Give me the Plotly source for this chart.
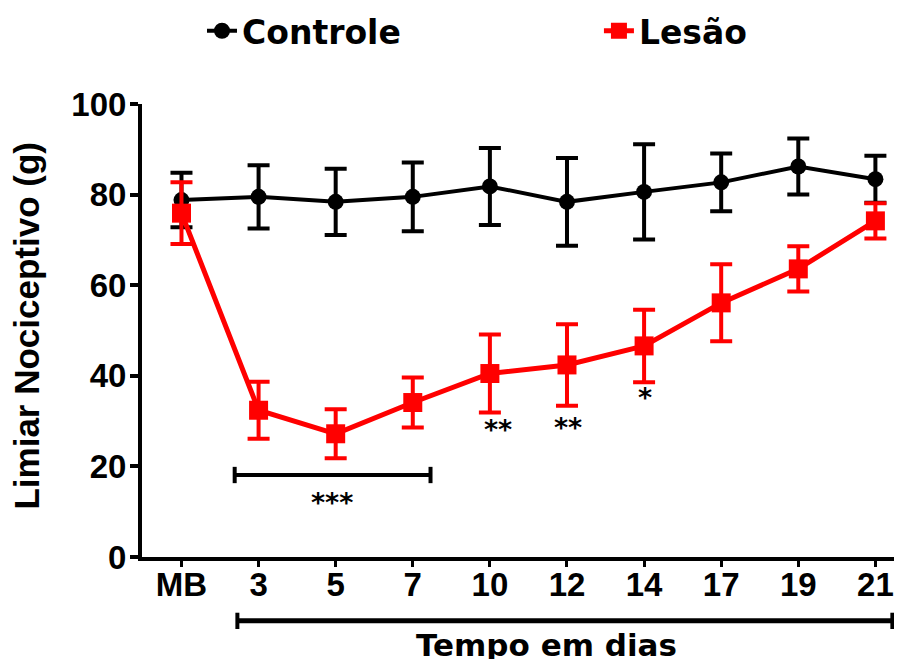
import plotly.graph_objects as go

# ---- data ----
time_labels = ["MB", "3", "5", "7", "10", "12", "14", "17", "19", "21"]
controle_mean = [78.8, 79.5, 78.4, 79.5, 81.8, 78.4, 80.6, 82.7, 86.2, 83.4]
controle_err = [6.0, 7.0, 7.3, 7.6, 8.5, 9.7, 10.5, 6.4, 6.2, 5.2]
lesao_mean = [75.9, 32.4, 27.2, 34.1, 40.5, 42.4, 46.6, 56.1, 63.6, 74.2]
lesao_err = [6.8, 6.3, 5.4, 5.5, 8.6, 9.0, 8.0, 8.5, 5.0, 3.9]

sig_labels = ["**", "**", "*", "***"]
sig_x = [4.10, 5.01, 6.01, 1.95]
sig_y = [28.9, 29.3, 35.8, 12.8]

y_ticks = [0, 20, 40, 60, 80, 100]

x_pos = list(range(len(time_labels)))

LEG_FONT = dict(family="DejaVu Sans", size=33, color="black", weight="bold")
TITLE_FONT = dict(family="DejaVu Sans", size=31, color="black", weight="bold")
TICK_FONT = dict(family="Liberation Sans", size=33, color="black", weight="bold")

fig = go.Figure()

fig.add_trace(go.Scatter(
    x=x_pos, y=controle_mean, name="Controle", mode="lines+markers",
    line=dict(color="black", width=4),
    marker=dict(symbol="circle", size=16, color="black"),
    error_y=dict(type="data", array=controle_err, visible=True,
                 color="black", thickness=4, width=11),
    legend="legend",
))
fig.add_trace(go.Scatter(
    x=x_pos, y=lesao_mean, name="Lesão", mode="lines+markers",
    line=dict(color="#ff0000", width=5),
    marker=dict(symbol="square", size=19, color="#ff0000"),
    error_y=dict(type="data", array=lesao_err, visible=True,
                 color="#ff0000", thickness=4, width=11),
    legend="legend2",
))

# significance asterisks
for lab, xi, yi in zip(sig_labels, sig_x, sig_y):
    fig.add_annotation(x=xi, y=yi, text=lab, showarrow=False,
                       xref="x", yref="y", xanchor="center", yanchor="middle",
                       yshift=-3,
                       font=dict(family="DejaVu Sans", size=27, color="black",
                                 weight="bold"))

# bracket for *** (days 3 to 7)
bx0, bx1, by = 0.69, 3.23, 18.1
fig.add_shape(type="line", xref="x", yref="y", x0=bx0, x1=bx1, y0=by, y1=by,
              line=dict(color="black", width=4))
for bx in (bx0, bx1):
    fig.add_shape(type="line", xref="x", yref="y", x0=bx, x1=bx,
                  y0=by - 1.8, y1=by + 1.8, line=dict(color="black", width=4))

# bottom bracket (time span)
tx0, tx1, ty = 0.725, 9.22, -0.141
fig.add_shape(type="line", xref="x", yref="paper", x0=tx0, x1=tx1, y0=ty, y1=ty,
              line=dict(color="black", width=5))
for tx in (tx0, tx1):
    fig.add_shape(type="line", xref="x", yref="paper", x0=tx, x1=tx,
                  y0=ty - 0.018, y1=ty + 0.018, line=dict(color="black", width=4))

fig.add_annotation(text="Tempo em dias", xref="paper", yref="paper",
                   x=0.532, y=-0.150, xanchor="center", yanchor="top",
                   showarrow=False, font=TITLE_FONT)
fig.add_annotation(text="Limiar Nociceptivo (g)", xref="paper", yref="paper",
                   x=-0.152, y=0.512, xanchor="center", yanchor="middle",
                   textangle=-90, showarrow=False,
                   font=dict(family="Liberation Sans", size=35, color="black",
                             weight="bold"))

fig.update_layout(
    width=894, height=651,
    margin=dict(l=134, r=0, t=96, b=102, autoexpand=False),
    paper_bgcolor="white", plot_bgcolor="white",
    showlegend=True,
    legend=dict(orientation="h", xref="container", yref="container",
                x=0.217, xanchor="left", y=0.965, yanchor="middle",
                font=LEG_FONT, bgcolor="rgba(0,0,0,0)"),
    legend2=dict(orientation="h", xref="container", yref="container",
                 x=0.661, xanchor="left", y=0.965, yanchor="middle",
                 font=LEG_FONT, bgcolor="rgba(0,0,0,0)"),
)
fig.update_xaxes(
    range=[-0.512, 9.345], tickmode="array", tickvals=x_pos, ticktext=time_labels,
    showline=True, linecolor="black", linewidth=4, ticks="outside",
    ticklen=6, tickwidth=3, tickcolor="black", showgrid=False, zeroline=False,
    tickfont=TICK_FONT, ticklabelstandoff=-11, automargin=False,
)
fig.update_yaxes(
    range=[0, 100], tickmode="array", tickvals=y_ticks,
    showline=True, linecolor="black", linewidth=4, ticks="outside",
    ticklen=8, tickwidth=4, tickcolor="black", showgrid=False, zeroline=False,
    tickfont=TICK_FONT, ticklabelstandoff=-3, automargin=False,
)

fig.write_html("out.html")
